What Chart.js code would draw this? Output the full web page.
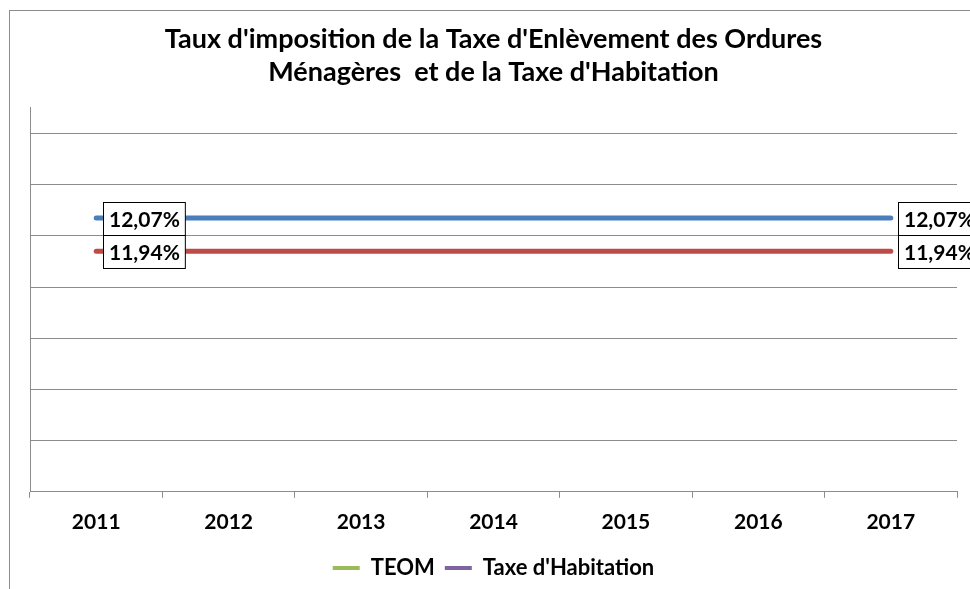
<!DOCTYPE html>
<html>
<head>
<meta charset="utf-8">
<script src="https://cdn.jsdelivr.net/npm/chart.js@4"></script>
<style>
  html, body { margin: 0; padding: 0; background: #fff; }
  #wrap { width: 970px; height: 589px; }
</style>
</head>
<body>
<div id="wrap"><canvas id="chart" width="970" height="589"></canvas></div>
<script>
const years = ['2011', '2012', '2013', '2014', '2015', '2016', '2017'];
const teomRates = [12.07, 12.07, 12.07, 12.07, 12.07, 12.07, 12.07];
const habitationRates = [11.94, 11.94, 11.94, 11.94, 11.94, 11.94, 11.94];
const seriesNames = ['TEOM', "Taxe d'Habitation"];
const lineColors = ['#4A7EBB', '#BE4B48'];
const legendColors = ['#9BBB59', '#8064A2'];
const labelledPoints = [0, 6];

const FONT = 'Lato, "Liberation Sans", sans-serif';

// boxed value labels next to first and last point
const boxLabels = {
    id: 'boxLabels',
    afterDatasetsDraw(chart) {
        const ctx = chart.ctx;
        ctx.save();
        ctx.font = 'bold 21px ' + FONT;
        ctx.textBaseline = 'middle';
        chart.data.datasets.forEach((ds, i) => {
            const meta = chart.getDatasetMeta(i);
            labelledPoints.forEach(idx => {
                const pt = meta.data[idx];
                const text = ds.data[idx].toFixed(2).replace('.', ',') + '%';
                const w = ctx.measureText(text).width + 11;
                const h = 33;
                const x = Math.round(pt.x + 7) + 0.5;
                const y = Math.round(pt.y - h / 2) + 0.5;
                ctx.fillStyle = '#fff';
                ctx.fillRect(x, y, w, h);
                ctx.strokeStyle = '#000';
                ctx.lineWidth = 1;
                ctx.strokeRect(x, y, w, h);
                ctx.fillStyle = '#000';
                ctx.fillText(text, x + 5.5, y + h / 2 + 1);
            });
        });
        ctx.restore();
    }
};

const frame = {
    id: 'frame',
    beforeDraw(chart) {
        const ctx = chart.ctx;
        ctx.save();
        ctx.strokeStyle = '#8c8c8c';
        ctx.lineWidth = 1;
        ctx.strokeRect(9.5, 10.5, 1000, 700);
        ctx.restore();
    }
};

new Chart(document.getElementById('chart').getContext('2d'), {
    type: 'line',
    data: {
        labels: years,
        datasets: [{
            label: seriesNames[0],
            data: teomRates,
            borderColor: lineColors[0],
            borderWidth: 5,
            borderCapStyle: 'round',
            pointRadius: 0,
            tension: 0
        }, {
            label: seriesNames[1],
            data: habitationRates,
            borderColor: lineColors[1],
            borderWidth: 5,
            borderCapStyle: 'round',
            pointRadius: 0,
            tension: 0
        }]
    },
    options: {
        responsive: false,
        animation: false,
        devicePixelRatio: 1,
        layout: {
            padding: { left: 30, right: 13, top: 0, bottom: 0 }
        },
        plugins: {
            title: {
                display: true,
                text: ["Taux d'imposition de la Taxe d'Enlèvement des Ordures", "Ménagères  et de la Taxe d'Habitation"],
                color: '#000',
                font: { family: FONT, size: 27, weight: 'bold', lineHeight: 1.222 },
                padding: { top: 23, bottom: 19 }
            },
            legend: {
                position: 'bottom',
                labels: {
                    color: '#000',
                    font: { family: FONT, size: 22, weight: 'bold' },
                    boxWidth: 27,
                    boxHeight: 4,
                    padding: 10,
                    generateLabels(chart) {
                        return seriesNames.map((name, i) => ({
                            text: name,
                            fillStyle: legendColors[i],
                            strokeStyle: legendColors[i],
                            lineWidth: 0,
                            datasetIndex: i
                        }));
                    }
                }
            },
            tooltip: { enabled: false }
        },
        scales: {
            x: {
                offset: true,
                grid: {
                    offset: true,
                    display: true,
                    drawOnChartArea: false,
                    drawTicks: true,
                    tickLength: 6,
                    color: '#8c8c8c'
                },
                border: { color: '#8c8c8c' },
                ticks: {
                    color: '#000',
                    font: { family: FONT, size: 21, weight: 'bold' },
                    padding: 12,
                    maxRotation: 0
                }
            },
            y: {
                min: 11,
                max: 12.5,
                ticks: { display: false, stepSize: 0.2 },
                grid: {
                    drawTicks: false,
                    color: ctx => (ctx.tick && Math.abs(ctx.tick.value - 12.5) < 1e-6) ? 'rgba(0,0,0,0)' : '#8c8c8c'
                },
                border: { color: '#8c8c8c' }
            }
        }
    },
    plugins: [frame, boxLabels]
});
</script>
</body>
</html>
